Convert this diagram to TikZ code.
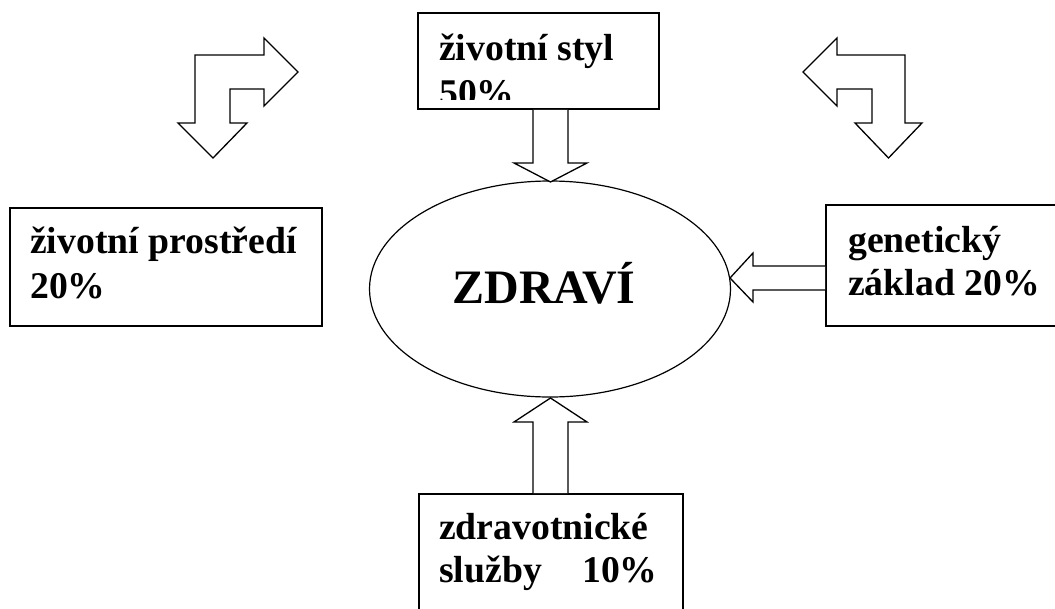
\documentclass[tikz,border=0pt]{standalone}
\usepackage{fontspec}
\setmainfont{Liberation Serif}
\usetikzlibrary{shapes.geometric}
\newcommand\boxfont{\fontsize{37.7}{45}\selectfont\bfseries}
\newcommand\bigfont{\fontsize{48}{56}\selectfont\bfseries}
\tikzset{
  frame/.style={draw=black, line width=1.6pt, rectangle, inner sep=0pt, fill=white},
  label/.style={anchor=base west, inner sep=0pt, font=\boxfont},
  blockarrow/.style={draw=black, line width=1.3pt, line join=miter, fill=white},
}
\begin{document}
\begin{tikzpicture}[x=1pt, y=-1pt]
\useasboundingbox (0,0) rectangle (1055,608);
\clip (0,0) rectangle (1055,608);
\fill[white] (0,0) rectangle (1055,608);

% boxes
\node[frame, minimum width=241pt, minimum height=96pt] (topbox) at (538.5,61) {};
\node[frame, minimum width=312pt, minimum height=118pt] (leftbox) at (166,267) {};
\node[frame, minimum width=244pt, minimum height=121pt] (rightbox) at (948,265.5) {};
\node[frame, minimum width=264pt, minimum height=146pt] (botbox) at (551,567) {};

% central ellipse
\node[ellipse, draw=black, line width=1.2pt, minimum width=361pt, minimum height=216pt, inner sep=0pt] (health) at (550,289) {};
\node[anchor=base, inner sep=0pt, font=\bigfont] (healthtext) at (544,303) {ZDRAVÍ};

% texts
\node[label] (t1a) at (439,60) {životní styl};
\begin{scope}
  \clip (419,14) rectangle (658,99.5);
  \node[label] (t1b) at (439,105) {50\%};
\end{scope}
\node[label] (t2a) at (30,253) {životní prostředí};
\node[label] (t2b) at (30,298) {20\%};
\node[label] (t3a) at (848,252) {genetický};
\node[label] (t3b) at (848,295) {základ 20\%};
\node[label] (t4a) at (439,539) {zdravotnické};
\node[label] (t4b) at (439,582) {služby\hspace{40.4pt}10\%};

% tips of the block arrows on the ellipse
\coordinate (tipTop) at (550.5,182);
\coordinate (tipBot) at (550.5,398);
\coordinate (tipRight) at (730,278);

% top block arrow: from topbox down to ellipse
\draw[blockarrow] (533,0 |- topbox.south) -- (533,163) -- (514,163) -- (tipTop)
  -- (587,163) -- (568,163) -- (568,0 |- topbox.south);
% bottom block arrow: from botbox up to ellipse
\draw[blockarrow] (533,0 |- botbox.north) -- (533,422) -- (514,422) -- (tipBot)
  -- (587,422) -- (568,422) -- (568,0 |- botbox.north);
% right block arrow: from rightbox left to ellipse
\draw[blockarrow] (0,266 -| rightbox.west) -- (753,266) -- (753,253) -- (tipRight)
  -- (753,302) -- (753,290) -- (0,290 -| rightbox.west);

% bent arrows (left and right)
\draw[blockarrow] (195,55) -- (264,55) -- (264,38) -- (298,72) -- (264,106) -- (264,89)
  -- (230,89) -- (230,123) -- (247,123) -- (213,158) -- (178,123) -- (195,123) -- cycle;
\draw[blockarrow] (905,55) -- (837,55) -- (837,38) -- (803,72) -- (837,106) -- (837,89)
  -- (872,89) -- (872,123) -- (855,123) -- (888.5,158) -- (922,123) -- (905,123) -- cycle;
\end{tikzpicture}
\end{document}
